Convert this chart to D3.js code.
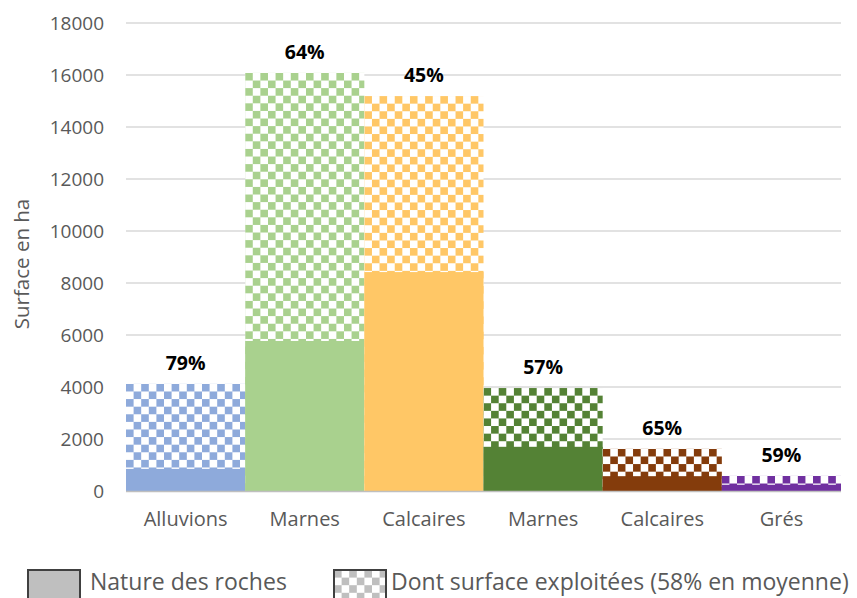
<!DOCTYPE html>
<html>
<head>
<meta charset="utf-8">
<script src="https://cdn.jsdelivr.net/npm/d3@7"></script>
<style>
  body { margin: 0; background: #fff; }
  text { font-family: "Open Sans", sans-serif; }
</style>
</head>
<body>
<svg id="chart" width="857" height="598"></svg>
<script>
const categories = ["Alluvions", "Marnes", "Calcaires", "Marnes", "Calcaires", "Grés"];
const totals = [4120, 16080, 15190, 3960, 1620, 580];
const rocks = [850, 5770, 8420, 1700, 570, 240];
const shares = ["79%", "64%", "45%", "57%", "65%", "59%"];
const colors = ["#8eaadb", "#a9d18e", "#ffc766", "#548235", "#843c0c", "#7030a0"];
const yTicks = [0, 2000, 4000, 6000, 8000, 10000, 12000, 14000, 16000, 18000];
const legendLabels = ["Nature des roches", "Dont surface exploitées (58% en moyenne)"];

const svg = d3.select("#chart");
const plotLeft = 126, plotRight = 841, plotTop = 23, plotBottom = 491;

const x = d3.scaleBand().domain(d3.range(categories.length)).range([plotLeft, plotRight]).padding(0);
const y = d3.scaleLinear().domain([0, 18000]).range([plotBottom, plotTop]);

// checker patterns, anchored at each bar's top-left corner
const defs = svg.append("defs");
const cell = 7.6;
function checker(id, col, ox, oy) {
  const p = defs.append("pattern").attr("id", id)
    .attr("patternUnits", "userSpaceOnUse")
    .attr("patternTransform", `translate(${ox},${oy})`)
    .attr("width", cell * 2).attr("height", cell * 2);
  p.append("rect").attr("width", cell * 2).attr("height", cell * 2).attr("fill", "#fff");
  p.append("rect").attr("width", cell).attr("height", cell).attr("fill", col);
  p.append("rect").attr("x", cell).attr("y", cell).attr("width", cell).attr("height", cell).attr("fill", col);
}
colors.forEach((c, i) => checker("chk" + i, c, x(i), y(totals[i])));

// gridlines
svg.append("g").selectAll("line").data(yTicks.slice(1)).join("line")
  .attr("x1", plotLeft).attr("x2", plotRight)
  .attr("y1", d => y(d)).attr("y2", d => y(d))
  .attr("stroke", "#d9d9d9").attr("stroke-width", 1.3);

// y axis labels
const yAxis = svg.append("g").attr("transform", `translate(${plotLeft - 10},0)`)
  .call(d3.axisLeft(y).tickValues(yTicks).tickSize(0).tickPadding(12).tickFormat(d3.format("d")));
yAxis.select(".domain").remove();
yAxis.selectAll("text").attr("font-size", 19).attr("fill", "#595959")
  .attr("font-family", "Open Sans, sans-serif");

// bars: patterned total then solid rock part
const bars = svg.append("g").selectAll("g").data(categories).join("g");
bars.append("rect")
  .attr("x", (d, i) => x(i)).attr("width", x.bandwidth())
  .attr("y", (d, i) => y(totals[i])).attr("height", (d, i) => y(0) - y(totals[i]))
  .attr("fill", (d, i) => `url(#chk${i})`);
bars.append("rect")
  .attr("x", (d, i) => x(i)).attr("width", x.bandwidth())
  .attr("y", (d, i) => y(rocks[i])).attr("height", (d, i) => y(0) - y(rocks[i]))
  .attr("fill", (d, i) => colors[i]);
bars.append("text")
  .attr("x", (d, i) => x(i) + x.bandwidth() / 2)
  .attr("y", (d, i) => y(totals[i]) - 14)
  .attr("text-anchor", "middle").attr("font-size", 19.5).attr("font-weight", "bold")
  .attr("fill", "#000")
  .text((d, i) => shares[i]);

// x axis line + labels
svg.append("line").attr("x1", plotLeft).attr("x2", plotRight)
  .attr("y1", plotBottom + 0.5).attr("y2", plotBottom + 0.5)
  .attr("stroke", "#bfbfbf").attr("stroke-width", 1.3);
const xAxis = svg.append("g").attr("transform", `translate(0,${plotBottom})`)
  .call(d3.axisBottom(x).tickSize(0).tickPadding(21).tickFormat(i => categories[i]));
xAxis.select(".domain").remove();
xAxis.selectAll("text").attr("font-size", 20).attr("fill", "#595959")
  .attr("font-family", "Open Sans, sans-serif");

// y axis title
svg.append("text")
  .attr("transform", "translate(29,264) rotate(-90)")
  .attr("text-anchor", "middle").attr("font-size", 20.5).attr("fill", "#595959")
  .text("Surface en ha");

// legend
checker("chkGrey", "#bfbfbf", 334, 570);
const legend = svg.append("g");
const legendItems = [
  { x: 28, fill: "#bfbfbf", tx: 90, label: legendLabels[0] },
  { x: 334, fill: "url(#chkGrey)", tx: 391, label: legendLabels[1] }
];
legend.selectAll("rect").data(legendItems).join("rect")
  .attr("x", d => d.x).attr("y", 570).attr("width", 52).attr("height", 34)
  .attr("fill", d => d.fill).attr("stroke", "#404040").attr("stroke-width", 2);
legend.selectAll("text").data(legendItems).join("text")
  .attr("x", d => d.tx).attr("y", 590)
  .attr("font-size", 23).attr("fill", "#595959")
  .text(d => d.label);
</script>
</body>
</html>
